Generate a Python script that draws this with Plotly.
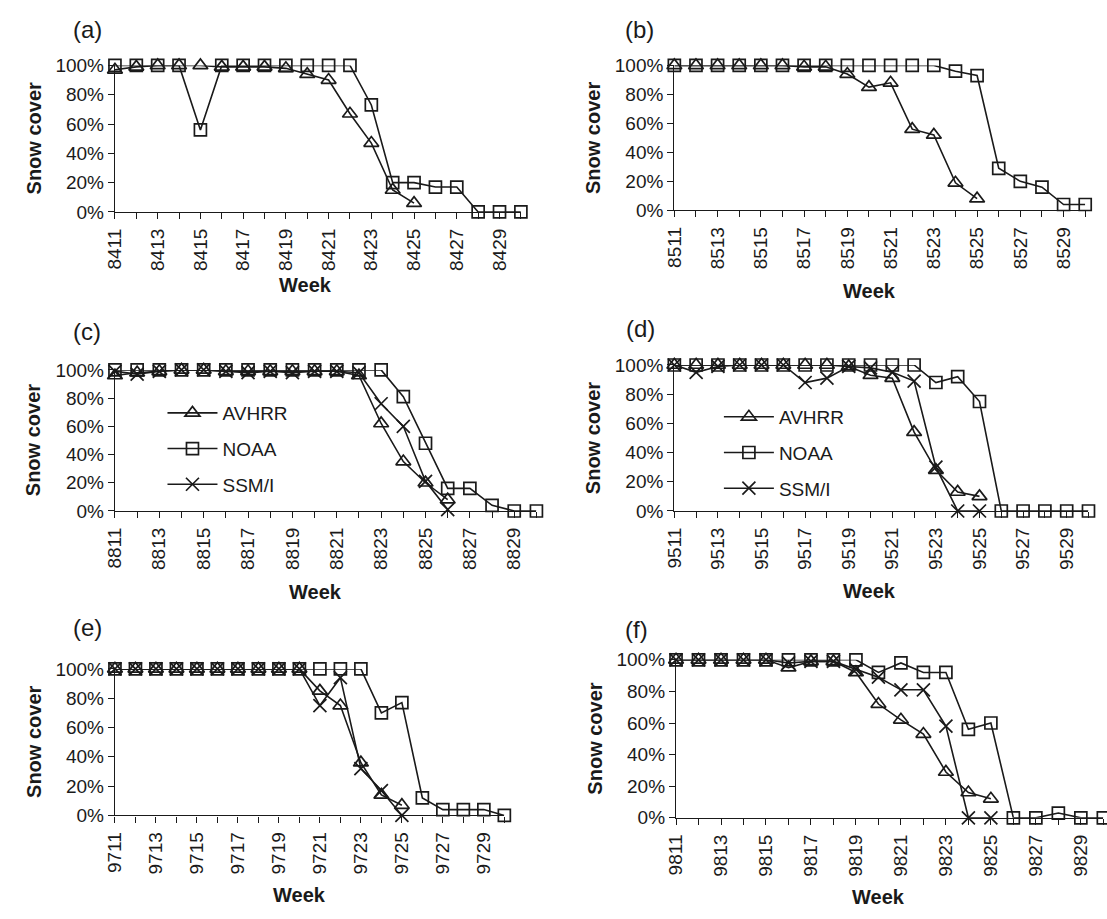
import plotly.graph_objects as go

W, H = 1107, 919

# ---- data: weekly snow cover (%) per sensor, one block per season ----
weeks_a = list(range(8411, 8431))
avhrr_a = [97, 99, 100, 100, 100, 99, 99, 99, 98, 94, 90, 67, 47, 15, 6]
noaa_a = [100, 100, 100, 100, 56, 100, 100, 100, 100, 100, 100, 100, 73, 20, 20, 17, 17, 0, 0, 0]

weeks_b = list(range(8511, 8531))
avhrr_b = [100, 100, 100, 100, 100, 100, 99, 99, 94, 85, 88, 56, 52, 19, 8]
noaa_b = [100, 100, 100, 100, 100, 100, 100, 100, 100, 100, 100, 100, 100, 96, 93, 29, 20, 16, 4, 4]

weeks_c = list(range(8811, 8831))
avhrr_c = [96, 98, 99, 100, 100, 99, 99, 99, 99, 99, 99, 96, 62, 35, 20, 8]
noaa_c = [100, 100, 100, 100, 100, 100, 100, 100, 100, 100, 100, 100, 100, 81, 48, 16, 16, 4, 0, 0]
ssmi_c = [99, 97, 99, 100, 100, 99, 98, 99, 98, 99, 99, 98, 76, 60, 21, 1]

weeks_d = list(range(9511, 9531))
avhrr_d = [100, 100, 100, 100, 100, 100, 100, 100, 99, 93, 91, 54, 28, 13, 10]
noaa_d = [100, 100, 100, 100, 100, 100, 100, 100, 100, 100, 100, 100, 88, 92, 75, 0, 0, 0, 0, 0]
ssmi_d = [100, 95, 99, 100, 100, 100, 88, 91, 99, 98, 95, 89, 30, 0, 0]

weeks_e = list(range(9711, 9731))
avhrr_e = [100, 100, 100, 100, 100, 100, 100, 100, 100, 100, 85, 75, 36, 14, 7]
noaa_e = [100, 100, 100, 100, 100, 100, 100, 100, 100, 100, 100, 100, 100, 70, 77, 12, 4, 4, 4, 0]
ssmi_e = [100, 100, 100, 100, 100, 100, 100, 100, 100, 100, 75, 94, 32, 17, 0]

weeks_f = list(range(9811, 9831))
avhrr_f = [100, 100, 100, 100, 100, 95, 99, 99, 92, 72, 62, 53, 29, 16, 12]
noaa_f = [100, 100, 100, 100, 100, 100, 100, 100, 100, 92, 98, 92, 92, 56, 60, 0, 0, 3, 0, 0]
ssmi_f = [100, 100, 100, 100, 100, 98, 99, 99, 94, 89, 81, 81, 58, 0, 0]

y_ticks = [0, 20, 40, 60, 80, 100]
y_ticktext = ["0%", "20%", "40%", "60%", "80%", "100%"]
panel_letters = ["(a)", "(b)", "(c)", "(d)", "(e)", "(f)"]
sensor_names = ["AVHRR", "NOAA", "SSM/I"]

panels = [
    (weeks_a, [avhrr_a, noaa_a, None]),
    (weeks_b, [avhrr_b, noaa_b, None]),
    (weeks_c, [avhrr_c, noaa_c, ssmi_c]),
    (weeks_d, [avhrr_d, noaa_d, ssmi_d]),
    (weeks_e, [avhrr_e, noaa_e, ssmi_e]),
    (weeks_f, [avhrr_f, noaa_f, ssmi_f]),
]

# plot-area boxes in pixels: left, right, top, bottom
boxes = [
    (105, 515, 56.7, 206.7),
    (670, 1085, 56.7, 205),
    (105, 530.7, 368.3, 512.7),
    (670, 1088.3, 363.3, 512.7),
    (105, 498.3, 674.3, 824.3),
    (671.7, 1103.3, 665, 826.7),
]
letter_pos = [(77, 20), (635, 20), (77, 329), (636, 326), (77, 632), (632, 634)]
week_pos = [(297, 281), (867, 288), (308, 596), (867, 595), (291, 906), (876, 908)]

FONT = "Liberation Sans, Arial, sans-serif"
INK = "#1a1a1a"

symbols = ["triangle-up-open", "square-open", "x-thin-open"]
sizes = [13, 12, 13]

fig = go.Figure()
annotations = []
layout = {}

for i, ((weeks, series), box) in enumerate(zip(panels, boxes)):
    n = "" if i == 0 else str(i + 1)
    xa, ya = "x" + n, "y" + n
    left, right, top, bottom = box
    legend_id = {2: "legend", 3: "legend2"}.get(i)
    for s, vals in enumerate(series):
        if vals is None:
            continue
        fig.add_trace(go.Scatter(
            x=weeks[:len(vals)], y=vals, xaxis=xa, yaxis=ya,
            mode="lines+markers", name=sensor_names[s],
            line=dict(color=INK, width=1.6),
            marker=dict(symbol=symbols[s], size=sizes[s], color=INK,
                        line=dict(color=INK, width=1.7)),
            cliponaxis=False,
            showlegend=legend_id is not None,
            legend=legend_id if legend_id else "legend",
            legendgroup=f"{i}-{s}",
        ))
    layout["xaxis" + n] = dict(
        domain=[left / W, right / W], anchor=ya,
        range=[weeks[0], weeks[-1]],
        tickmode="array", tickvals=weeks,
        ticktext=[str(w) if k % 2 == 0 else "" for k, w in enumerate(weeks)],
        tickangle=-90, ticks="outside", ticklen=6, tickwidth=1.3, tickcolor=INK,
        ticklabelstandoff=2,
        showline=True, linecolor=INK, linewidth=1.3,
        showgrid=False, zeroline=False,
        tickfont=dict(family=FONT, size=19, color=INK),
    )
    layout["yaxis" + n] = dict(
        domain=[1 - bottom / H, 1 - top / H], anchor=xa,
        range=[0, 100], tickmode="array", tickvals=y_ticks, ticktext=y_ticktext,
        ticks="outside", ticklen=6, tickwidth=1.3, tickcolor=INK,
        showline=True, linecolor=INK, linewidth=1.3,
        showgrid=False, zeroline=False,
        tickfont=dict(family=FONT, size=19, color=INK),
    )
    lx, ly = letter_pos[i]
    annotations.append(dict(text=panel_letters[i], x=lx / W, y=1 - ly / H,
                            xref="paper", yref="paper", showarrow=False,
                            xanchor="center", yanchor="middle",
                            font=dict(family=FONT, size=24, color=INK)))
    wx, wy = week_pos[i]
    annotations.append(dict(text="<b>Week</b>", x=wx / W, y=1 - wy / H,
                            xref="paper", yref="paper", showarrow=False,
                            xanchor="center", yanchor="middle",
                            font=dict(family=FONT, size=20, color=INK)))
    annotations.append(dict(text="<b>Snow cover</b>", x=(left - 82) / W,
                            y=1 - (top + bottom) / 2 / H,
                            xref="paper", yref="paper", showarrow=False,
                            textangle=-90, xanchor="center", yanchor="middle",
                            font=dict(family=FONT, size=20, color=INK)))

legend_style = dict(
    bgcolor="rgba(0,0,0,0)", borderwidth=0,
    font=dict(family=FONT, size=19, color=INK),
    traceorder="grouped", tracegroupgap=8, itemwidth=50,
    xanchor="left", yanchor="top",
)

fig.update_layout(
    width=W, height=H,
    margin=dict(l=0, r=0, t=0, b=0),
    paper_bgcolor="white", plot_bgcolor="white",
    font=dict(family=FONT, color=INK),
    annotations=annotations,
    legend=dict(x=153 / W, y=1 - 393 / H, **legend_style),
    legend2=dict(x=715 / W, y=1 - 397 / H, **legend_style),
    **layout,
)

fig.write_html("out.html")
